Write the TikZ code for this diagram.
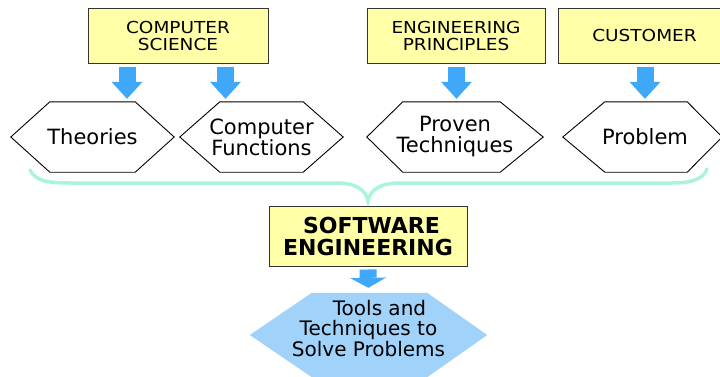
\documentclass[tikz,border=0pt]{standalone}
\usepackage{fontspec}
\setmainfont{DejaVu Sans}
\newfontfamily\boxfont[FakeStretch=1.12]{DejaVu Sans}
\usetikzlibrary{arrows.meta,calc,backgrounds}
\definecolor{boxyellow}{HTML}{FFFFA8}
\definecolor{arrowblue}{HTML}{40A8F8}
\definecolor{hexblue}{HTML}{A0D2FA}
\definecolor{mint}{HTML}{A8F5D8}
\newcommand{\hexpath}[4][]{%
  \path[#1] (#2.west) -- ($(#2.north west)+(#3,0)$) -- ($(#2.north east)+(-#4,0)$) -- (#2.east)
    -- ($(#2.south east)+(-#4,0)$) -- ($(#2.south west)+(#3,0)$) -- cycle;}
\begin{document}
\begin{tikzpicture}[x=1pt,y=-1pt,
  topbox/.style={draw=black!80, line width=1pt, fill=boxyellow, minimum height=55pt, inner sep=0pt,
    align=center, font=\boxfont\fontsize{16.5}{17}\selectfont},
  hexnode/.style={inner sep=0pt, minimum height=70pt, align=center, font=\fontsize{21}{21}\selectfont},
  hexline/.style={draw=black, line width=0.9pt, line join=miter},
  blockarrow/.style={draw=arrowblue, line width=17pt, shorten <=3pt, shorten >=3pt,
    -{Triangle[width=31pt,length=17pt,line width=0pt]}},
  smallarrow/.style={draw=arrowblue, line width=17pt, shorten <=3pt, shorten >=5pt,
    -{Triangle[width=36pt,length=10pt,line width=0pt]}},
  brace/.style={draw=mint, line width=3.5pt, line cap=round}
]
\useasboundingbox (0,0) rectangle (720,376);

% top boxes
\node[topbox, minimum width=180pt] (cs) at (178,35.5) {COMPUTER\\SCIENCE};
\node[topbox, minimum width=178pt] (ep) at (456,35.5) {ENGINEERING\\PRINCIPLES};
\node[topbox, minimum width=173pt] (cu) at (644.5,35.5) {CUSTOMER};

% hexagons
\node[hexnode, minimum width=163pt] (th) at (92.5,137) {Theories};
\node[hexnode, minimum width=163pt] (cf) at (261.5,137) {Computer\\Functions};
\node[hexnode, minimum width=176pt] (pt) at (455,137) {Proven\\Techniques};
\node[hexnode, minimum width=159pt] (pr) at (642.5,137) {\hspace*{5pt}Problem};
\hexpath[hexline]{th}{39}{39}
\hexpath[hexline]{cf}{40}{40}
\hexpath[hexline]{pt}{36}{43}
\hexpath[hexline]{pr}{42}{35}

% arrows
\coordinate (a1) at (127,0);
\coordinate (a2) at (225.5,0);
\coordinate (a3) at (456.5,0);
\coordinate (a4) at (645,0);
\draw[blockarrow] (cs.south -| a1) -- (th.north -| a1);
\draw[blockarrow] (cs.south -| a2) -- (cf.north -| a2);
\draw[blockarrow] (ep.south -| a3) -- (pt.north -| a3);
\draw[blockarrow] (cu.south -| a4) -- (pr.north -| a4);

% brace
\coordinate (bl) at (30,170);
\coordinate (bm) at (368,201);
\coordinate (br) at (707,169);
\draw[brace] (bl) .. controls (36,182) and (50,183) .. (72,183) -- (336,183)
  .. controls (356,183) and (366,190) .. (bm)
  .. controls (370,190) and (380,183) .. (400,183) -- (672,183)
  .. controls (694,183) and (704,178) .. (br);

% software engineering
\node[draw=black!80, line width=1pt, fill=boxyellow, minimum width=198pt, minimum height=60pt,
  inner sep=0pt, align=center, font=\bfseries\fontsize{22}{22}\selectfont] (se) at (368,236)
  {\hspace*{7pt}SOFTWARE\\ENGINEERING};

% bottom hexagon
\node[inner sep=0pt, minimum width=237pt, minimum height=84pt, align=center,
  font=\fontsize{20}{20.5}\selectfont] (tt) at (368.5,335)
  {\hspace*{22pt}Tools and\\Techniques to\\Solve Problems\rule[-14pt]{0pt}{14pt}};
\begin{scope}[on background layer]
  \hexpath[fill=hexblue]{tt}{62}{60}
\end{scope}
\draw[smallarrow] (se.south) -- (tt.north);
\end{tikzpicture}
\end{document}
